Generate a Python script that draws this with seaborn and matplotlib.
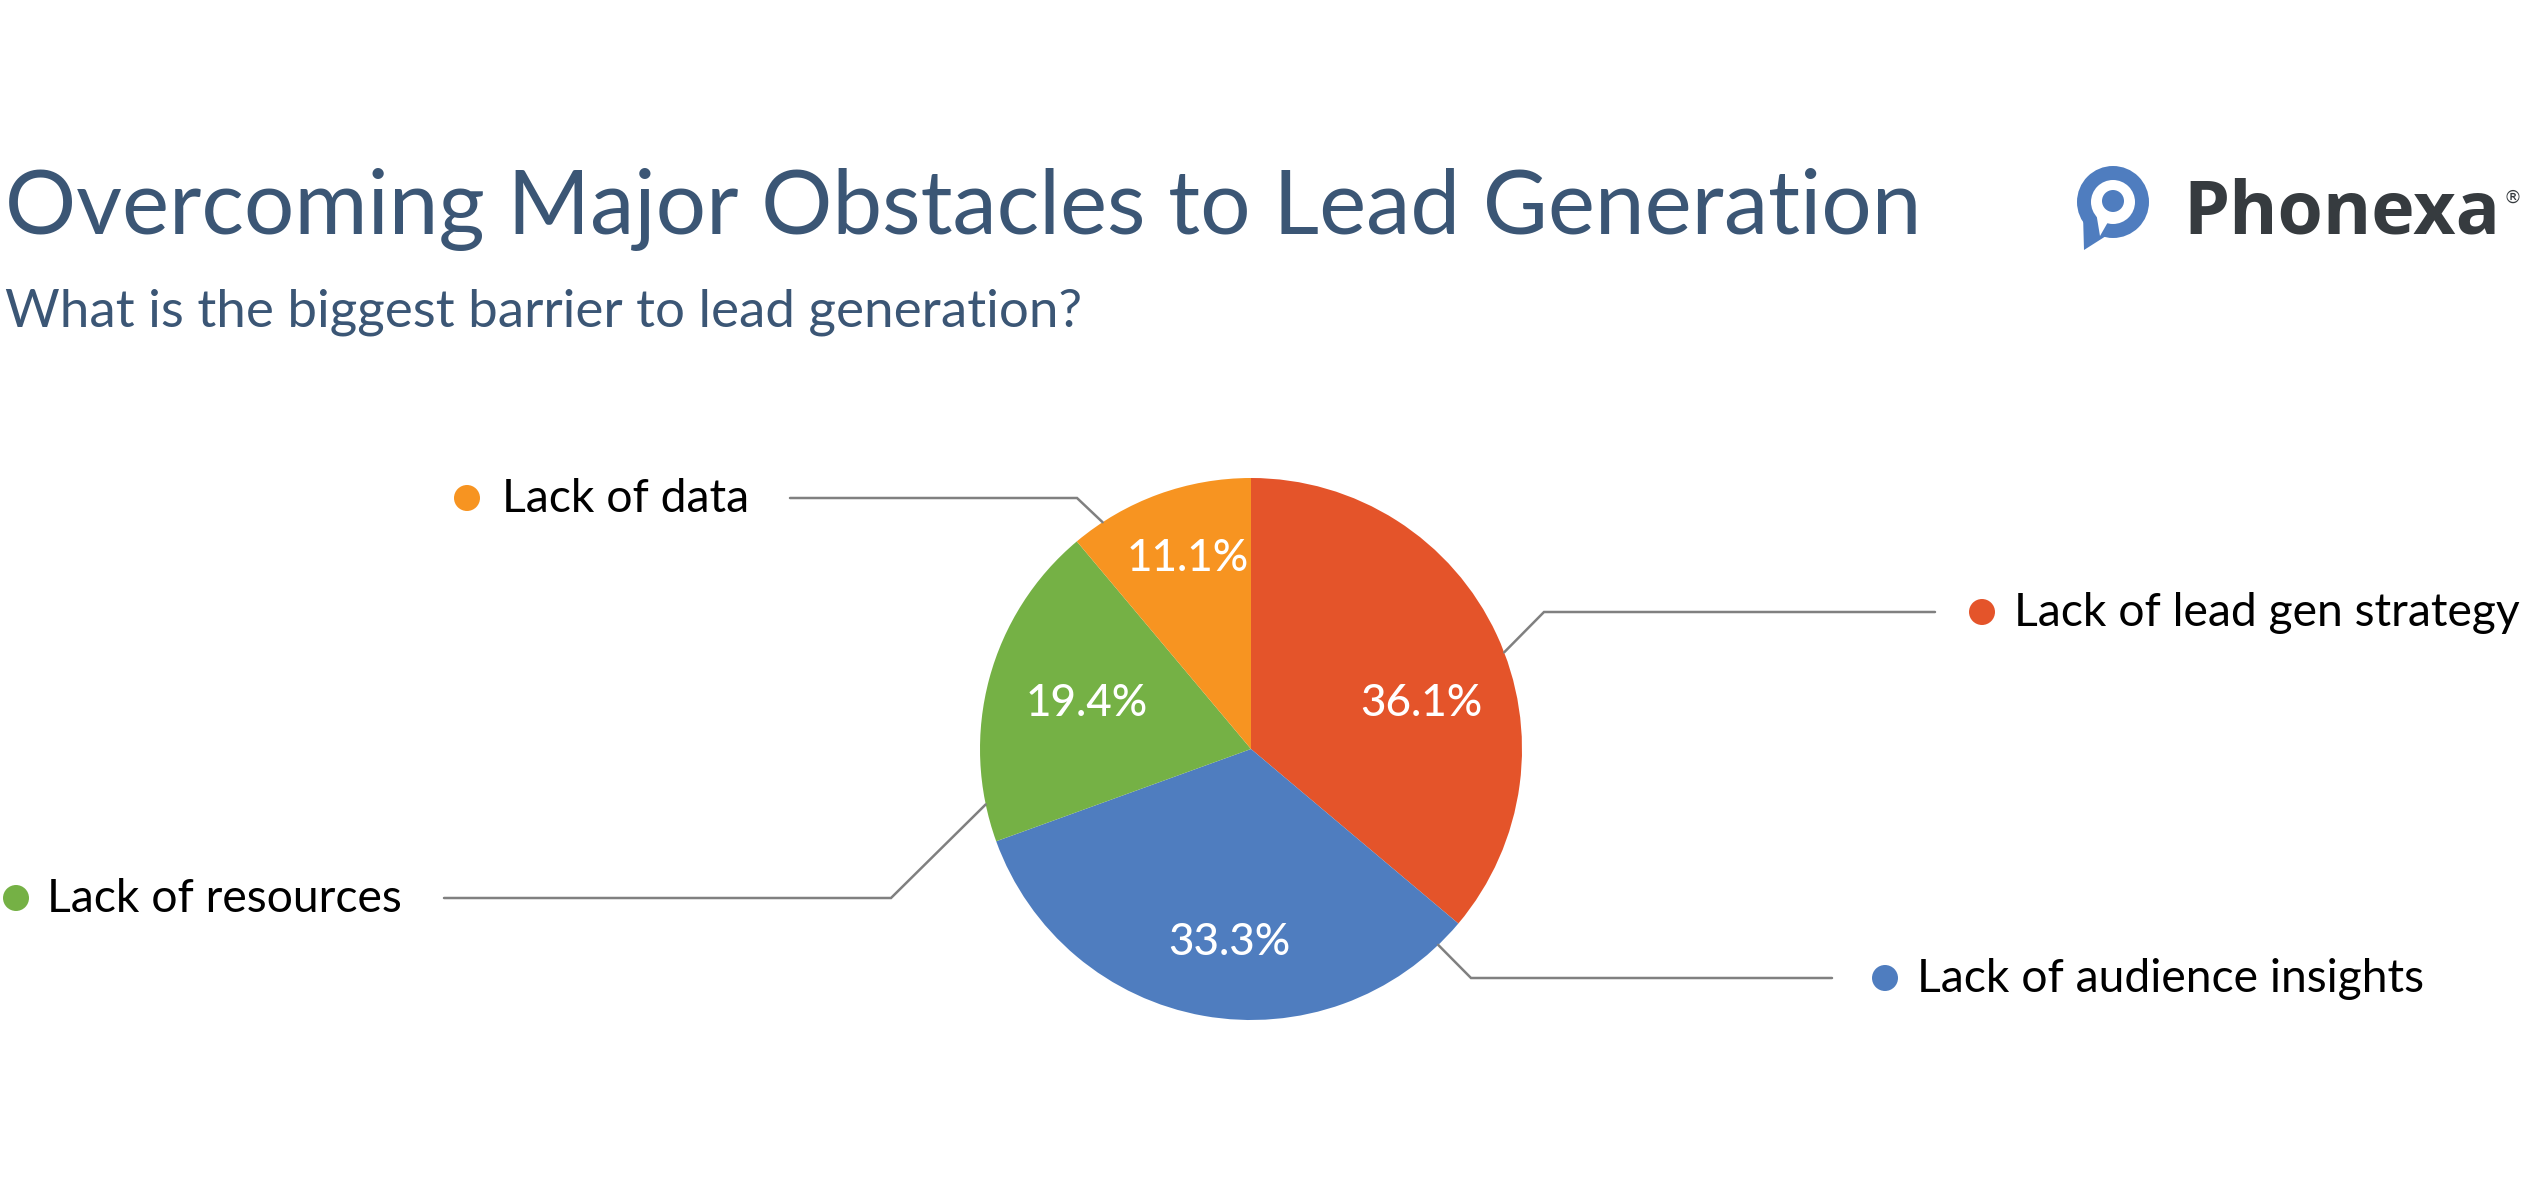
import numpy as np
import pandas as pd
import matplotlib
matplotlib.use("Agg")
import matplotlib.pyplot as plt
import seaborn as sns
from matplotlib.patches import Circle, Polygon

# Chart data
categories = ["Lack of lead gen strategy", "Lack of audience insights",
              "Lack of resources", "Lack of data"]
shares = [36.1, 33.3, 19.4, 11.1]
colors = ["#E4542A", "#4F7DBF", "#75B145", "#F79421"]

title = "Overcoming Major Obstacles to Lead Generation"
subtitle = "What is the biggest barrier to lead generation?"

# Canvas in pixels
W, H = 2522, 1180
cx, cy, R = 1251, H - 749, 271

sns.set_theme(style="white")
plt.rcParams['font.family'] = ['Lato', 'DejaVu Sans']

fig = plt.figure(figsize=(W / 100, H / 100), dpi=100)
fig.patch.set_facecolor("white")
ax = fig.add_axes([0, 0, 1, 1])

df = pd.DataFrame({"category": categories, "share": shares})
palette = sns.color_palette(colors)

wedges, texts, autotexts = ax.pie(
    df["share"], colors=palette, startangle=90, counterclock=False,
    center=(cx, cy), radius=R, autopct="%.1f%%", pctdistance=0.7,
    textprops=dict(color="white", fontsize=30, fontweight="medium"),
    wedgeprops=dict(linewidth=0), frame=True)

ax.set_xlim(0, W)
ax.set_ylim(0, H)
ax.set_aspect("equal")
ax.axis("off")

renderer = fig.canvas.get_renderer()


def fit(t, target):
    bb = t.get_window_extent(renderer)
    t.set_fontsize(t.get_fontsize() * target / bb.width)


# percent labels: (angle deg, fraction of radius)
pct_layout = [(15, 0.65), (-96.5, 0.72), (164.7, 0.63), (108.5, 0.74)]
for t, (ang, d) in zip(autotexts, pct_layout):
    a = np.deg2rad(ang)
    t.set_position((cx + d * R * np.cos(a), cy + d * R * np.sin(a)))
fit(autotexts[0], 122)
for t in autotexts[1:]:
    t.set_fontsize(autotexts[0].get_fontsize())

# leader lines + legend-style labels
# (edge angle, elbow x, elbow y from top, line end x, dot x, text x)
label_layout = [
    (20.9, 1544, 612, 1935, 1982, 2014),
    (-46.3, 1471, 978, 1832, 1885, 1917),
    (191.8, 891, 898, 444, 16, 47),
    (123.2, 1077, 498, 790, 467, 502),
]
label_texts = []
for cat, col, (ang, ex, ey, lx, dx, tx) in zip(df["category"], colors, label_layout):
    a = np.deg2rad(ang)
    sx, sy = cx + R * np.cos(a), cy + R * np.sin(a)
    ey = H - ey
    ax.plot([sx, ex, lx], [sy, ey, ey], color="#808080", lw=1.8,
            solid_joinstyle="miter", zorder=1)
    ax.add_patch(Circle((dx, ey), 13, color=col, lw=0))
    t = ax.text(tx, ey - 14, cat, fontsize=26, color="black", va="baseline",
                ha="left", fontweight="normal")
    label_texts.append(t)
fit(label_texts[1], 507)
for t in label_texts:
    t.set_fontsize(label_texts[1].get_fontsize())

# title and subtitle
tt = ax.text(5, H - 234, title, fontsize=50, color="#3B5675", va="baseline")
fit(tt, 1917)
st = ax.text(5, H - 327, subtitle, fontsize=26, color="#3B5675", va="baseline")
fit(st, 1073)

# logo
blue = "#4F7DBF"
ax.add_patch(Polygon([(2083, H - 214), (2106, H - 236), (2084, H - 250)],
                     closed=True, color=blue, lw=0))
ax.add_patch(Circle((2113, H - 202), 36, color=blue, lw=0))
ax.add_patch(Circle((2113, H - 202), 22, color="white", lw=0))
ax.add_patch(Polygon([(2096, H - 212), (2108, H - 222), (2100, H - 236)],
                     closed=True, color="white", lw=0))
ax.add_patch(Circle((2113, H - 201), 11, color=blue, lw=0))
lt = ax.text(2183, H - 233, "Phonexa", fontsize=40, color="#363B3F",
             va="baseline", fontweight="bold",
             family=["Open Sans", "DejaVu Sans"])
fit(lt, 317)
ax.text(2503, H - 203, "®", fontsize=13, color="#363B3F", va="baseline",
        family=["DejaVu Sans"])

fig.savefig("out.png", dpi=100, facecolor="white")
